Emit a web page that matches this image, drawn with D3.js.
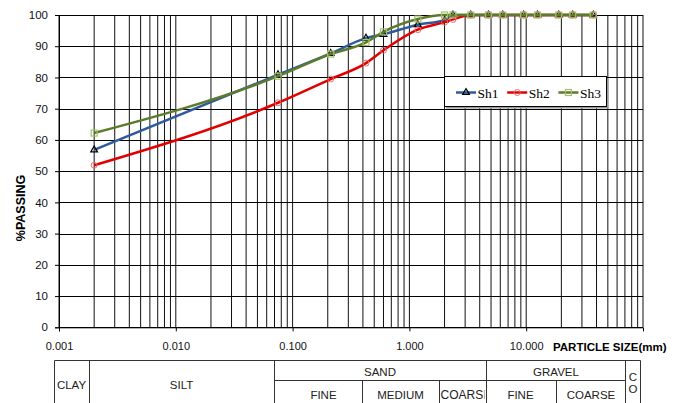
<!DOCTYPE html>
<html>
<head>
<meta charset="utf-8">
<script src="https://cdn.jsdelivr.net/npm/d3@7"></script>
<style>
  body { margin: 0; background: #fff; }
  svg { display: block; font-family: "Liberation Sans", Arial, sans-serif; }
</style>
</head>
<body>
<svg width="681" height="403"></svg>
<script>
// particle size (mm) of each sieve reading
var sizes = [0.002, 0.075, 0.212, 0.425, 0.6, 1.18, 2.0, 2.36, 3.35, 4.75, 6.3, 9.5, 12.5, 19, 25, 37.5];
var sh1 = [56.8, 80.9, 87.7, 92.6, 93.8, 96.9, 98.3, 100, 100, 100, 100, 100, 100, 100, 100, 100];
var sh2 = [51.9, 71.9, 79.5, 84.6, 88.7, 95.3, 97.7, 98.6, 100, 100, 100, 100, 100, 100, 100, 100];
var sh3 = [62.2, 80.4, 87.5, 91.2, 94.6, 98.7, 100, 100, 100, 100, 100, 100, 100, 100, 100, 100];
var seriesNames = ["Sh1", "Sh2", "Sh3"];
var xLabels = [0.001, 0.01, 0.1, 1, 10];
var yLabels = [0, 10, 20, 30, 40, 50, 60, 70, 80, 90, 100];

var series = [
  { name: "Sh1", values: sh1, color: "#2d5b9b", mark: "#000", shape: "triangle" },
  { name: "Sh2", values: sh2, color: "#e00000", mark: "#e87070", shape: "circle" },
  { name: "Sh3", values: sh3, color: "#5d7b2d", mark: "#a3c267", shape: "square" }
];

var svg = d3.select("svg");

var x = d3.scaleLog().domain([0.001, 100]).range([59, 643]);
var y = d3.scaleLinear().domain([0, 100]).range([327.3, 15]);

// grid
var grid = svg.append("g");
grid.selectAll("line.v")
  .data(x.ticks())
  .enter().append("line")
    .attr("x1", function(d) { return x(d); })
    .attr("x2", function(d) { return x(d); })
    .attr("y1", y(0))
    .attr("y2", y(100))
    .attr("stroke", "#111")
    .attr("stroke-width", 1);
grid.selectAll("line.h")
  .data(yLabels)
  .enter().append("line")
    .attr("x1", x(0.001))
    .attr("x2", x(100))
    .attr("y1", function(d) { return Math.round(y(d)) + 0.5; })
    .attr("y2", function(d) { return Math.round(y(d)) + 0.5; })
    .attr("stroke", "#000");

// axes
var yAxis = svg.append("g")
  .attr("transform", "translate(59,0)")
  .call(d3.axisLeft(y).tickValues(yLabels).tickSize(4).tickPadding(7));
yAxis.select(".domain").attr("stroke", "#000");
yAxis.selectAll("text").attr("font-size", 11.5).attr("fill", "#111")
  .attr("font-family", "Liberation Sans, Arial");

var xAxis = svg.append("g")
  .attr("transform", "translate(0," + y(0) + ")")
  .call(d3.axisBottom(x).tickValues(xLabels).tickFormat(d3.format(".3f")).tickSize(4).tickPadding(11));
xAxis.select(".domain").attr("stroke", "#000");
xAxis.selectAll("text").attr("font-size", 11).attr("fill", "#111")
  .attr("font-family", "Liberation Sans, Arial");

svg.append("text")
  .attr("x", 553).attr("y", 351)
  .attr("font-size", 11.5).attr("font-weight", "bold")
  .text("PARTICLE SIZE(mm)");

svg.append("text")
  .attr("transform", "translate(25,208) rotate(-90)")
  .attr("text-anchor", "middle")
  .attr("font-size", 12.5).attr("font-weight", "bold")
  .text("%PASSING");

// lines
var line = d3.line()
  .x(function(d) { return x(d[0]); })
  .y(function(d) { return y(d[1]); })
  .curve(d3.curveMonotoneX);

function drawMarker(g, shape, color) {
  if (shape === "circle") {
    g.append("circle").attr("r", 3).attr("fill", "none").attr("stroke", color).attr("stroke-width", 1);
  } else if (shape === "square") {
    g.append("rect").attr("x", -3).attr("y", -3).attr("width", 6).attr("height", 6)
      .attr("fill", "none").attr("stroke", color).attr("stroke-width", 1.2);
  } else {
    g.append("path").attr("d", d3.symbol().type(d3.symbolTriangle).size(20)())
      .attr("fill", "none").attr("stroke", color).attr("stroke-width", 1.2);
  }
}

series.forEach(function(s) {
  var pts = sizes.map(function(v, i) { return [v, s.values[i]]; });
  svg.append("path")
    .datum(pts)
    .attr("d", line)
    .attr("fill", "none")
    .attr("stroke", s.color)
    .attr("stroke-width", 2.5);
  svg.append("g").selectAll("g")
    .data(pts)
    .enter().append("g")
      .attr("transform", function(d) { return "translate(" + x(d[0]) + "," + y(d[1]) + ")"; })
      .each(function() { drawMarker(d3.select(this), s.shape, s.mark); });
});

// legend
var legend = svg.append("g");
legend.append("rect").attr("x", 446).attr("y", 78.5).attr("width", 162).attr("height", 30).attr("fill", "#999");
legend.append("rect").attr("x", 444.5).attr("y", 76.5).attr("width", 162).attr("height", 30)
  .attr("fill", "#fff").attr("stroke", "#000");
series.forEach(function(s, i) {
  var lx = 456 + i * 51.2;
  legend.append("line").attr("x1", lx).attr("x2", lx + 20).attr("y1", 92.5).attr("y2", 92.5)
    .attr("stroke", s.color).attr("stroke-width", 2.5);
  var m = legend.append("g").attr("transform", "translate(" + (lx + 10) + ",92.5)");
  drawMarker(m, s.shape, s.mark);
  legend.append("text").attr("x", lx + 21.5).attr("y", 97.5)
    .attr("font-family", "Liberation Serif, Times New Roman, serif")
    .attr("font-size", 13.5).text(seriesNames[i]);
});

// soil classification table
var table = svg.append("g").attr("stroke", "#333").attr("stroke-width", 1);
var tl = 54.5, tr = 640.5, tt = 360.5, tm = 380.5, tb = 403;
table.append("line").attr("x1", tl).attr("x2", tr).attr("y1", tt).attr("y2", tt);
table.append("line").attr("x1", 274.5).attr("x2", 625.5).attr("y1", tm).attr("y2", tm);
[tl, 89.5, 274.5, 486.5, 625.5, tr].forEach(function(v) {
  table.append("line").attr("x1", v).attr("x2", v).attr("y1", tt).attr("y2", tb);
});
[362.5, 439.5, 556.5].forEach(function(v) {
  table.append("line").attr("x1", v).attr("x2", v).attr("y1", tm).attr("y2", tb);
});

var cells = [
  ["CLAY", 71.5, 389], ["SILT", 181.5, 389], ["SAND", 380, 375.5], ["GRAVEL", 556, 375.5],
  ["FINE", 323.5, 399], ["MEDIUM", 400.5, 399], ["FINE", 520.5, 399], ["COARSE", 591, 399],
  ["C", 633, 380.5], ["O", 633, 392.5]
];
svg.append("g").selectAll("text")
  .data(cells)
  .enter().append("text")
    .attr("x", function(d) { return d[1]; })
    .attr("y", function(d) { return d[2]; })
    .attr("text-anchor", "middle")
    .attr("font-size", 11.5)
    .attr("fill", "#222")
    .text(function(d) { return d[0]; });

svg.append("clipPath").attr("id", "coars")
  .append("rect").attr("x", 440).attr("y", 381).attr("width", 44.5).attr("height", 22);
svg.append("text")
  .attr("x", 440.5).attr("y", 399)
  .attr("font-size", 12).attr("fill", "#222")
  .attr("clip-path", "url(#coars)")
  .text("COARSE");
</script>
</body>
</html>
